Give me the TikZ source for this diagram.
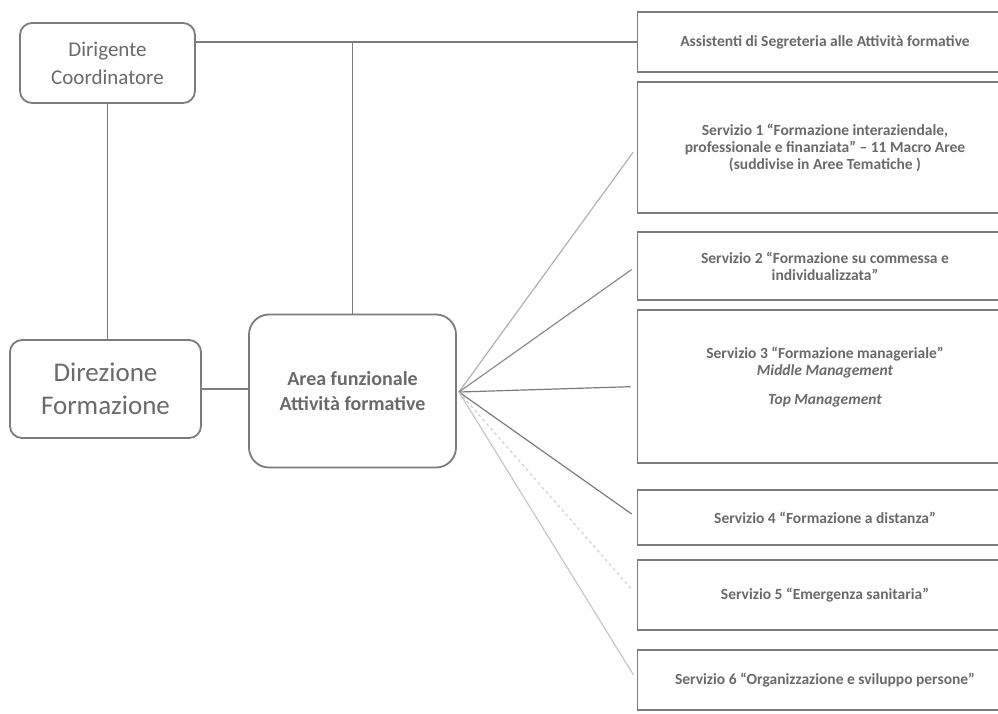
\documentclass[tikz,border=0pt]{standalone}
\usepackage{fontspec}
\setmainfont{Carlito}
\usetikzlibrary{calc}
\definecolor{bordc}{HTML}{7C7C7C}
\definecolor{txtc}{HTML}{6A6A6A}
\begin{document}
\begin{tikzpicture}[x=1pt,y=-1pt,
  lbox/.style={draw=bordc,line width=1.8pt,rounded corners=12pt,text=txtc,align=center,inner sep=0pt},
  rbox/.style={draw=bordc,line width=1.8pt,text=txtc,align=center,inner sep=0pt,minimum width=375pt,
     font=\fontsize{15.5}{17}\selectfont\bfseries},
  conn/.style={draw=bordc,line width=1.3pt},
  fan/.style={line width=1.2pt,shorten >=6pt}]
\useasboundingbox (0,0) rectangle (998,713);
\clip (0,0) rectangle (998,713);
\fill[white] (0,0) rectangle (998,713);
% left nodes
\node[lbox,minimum width=175pt,minimum height=80pt,font=\fontsize{21}{28}\selectfont] (dir) at (107.5,63) {Dirigente\\Coordinatore};
\node[lbox,minimum width=191pt,minimum height=98pt,font=\fontsize{27}{33}\selectfont] (direz) at (105.5,389) {Direzione\\Formazione};
\node[lbox,rounded corners=20pt,minimum width=207pt,minimum height=153pt,font=\fontsize{20}{25}\selectfont\bfseries] (area) at (352.5,391) {Area funzionale\\Attività formative};
% right boxes
\node[rbox,minimum height=60pt] (a0) at (825,42) {Assistenti di Segreteria alle Attività formative};
\node[rbox,minimum height=131pt] (a1) at (825,147.5) {Servizio 1 “Formazione interaziendale,\\professionale e finanziata” – 11 Macro Aree\\(suddivise in  Aree Tematiche )};
\node[rbox,minimum height=68pt] (a2) at (825,266) {Servizio 2 “Formazione su commessa e\\individualizzata”};
\node[rbox,minimum height=153pt] (a3) at (825,386.5) {Servizio 3 “Formazione manageriale”\\\textit{Middle Management}\\[12pt]\textit{Top Management}\\[4pt]\mbox{}};
\node[rbox,minimum height=55pt] (a4) at (825,517.5) {Servizio 4 “Formazione a distanza”};
\node[rbox,minimum height=70pt] (a5) at (825,595) {Servizio 5 “Emergenza sanitaria”};
\node[rbox,minimum height=60pt] (a6) at (825,680) {Servizio 6 “Organizzazione e sviluppo persone”};
% connectors
\draw[conn] (dir.south) -- (dir.south |- direz.north);
\draw[conn] (dir.east |- a0.west) -- (a0.west);
\draw[conn] (area.north) -- (area.north |- a0.west);
\draw[conn] (direz.east) -- (direz.east -| area.west);
\coordinate (hub) at ($(area.east)+(2,1)$);
\draw[fan,draw=black!30] (hub) -- (a1.west);
\draw[fan,draw=black!45] (hub) -- (a2.west);
\draw[fan,draw=bordc] (hub) -- (a3.west);
\draw[fan,draw=bordc] (hub) -- (a4.west);
\draw[fan,draw=black!18,dashed] (hub) -- (a5.west);
\draw[fan,draw=black!22] (hub) -- (a6.west);
\end{tikzpicture}
\end{document}
